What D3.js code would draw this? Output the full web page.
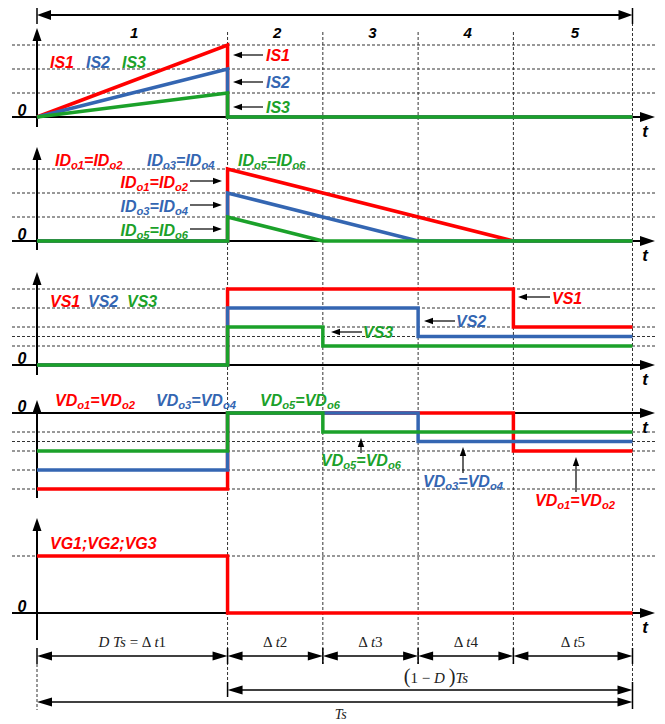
<!DOCTYPE html>
<html>
<head>
<meta charset="utf-8">
<script src="https://cdn.jsdelivr.net/npm/d3@7"></script>
<style>
  body { margin: 0; background: #fff; }
  svg { display: block; }
</style>
</head>
<body>
<svg id="chart" width="665" height="724"></svg>
<script>
// ---- switching interval boundaries (time units) ----
const boundaries = [0, 2, 3, 4, 5, 6.25];
const phaseLabels = ["1", "2", "3", "4", "5"];
const intervalLabels = ["D Ts = Δ t1", "Δ t2", "Δ t3", "Δ t4", "Δ t5"];
const offLabel = "(1 − D )Ts";
const periodLabel = "Ts";

// ---- switch currents IS1..IS3 ----
const is1 = [[0, 0], [2, 3], [2, 0], [6.25, 0]];
const is2 = [[0, 0], [2, 2], [2, 0], [6.25, 0]];
const is3 = [[0, 0], [2, 1], [2, 0], [6.25, 0]];
const isGrid = [1, 2, 3];

// ---- diode currents ----
const id12 = [[0, 0], [2, 0], [2, 3], [5, 0], [6.25, 0]];
const id34 = [[0, 0], [2, 0], [2, 2], [4, 0], [6.25, 0]];
const id56 = [[0, 0], [2, 0], [2, 1], [3, 0], [6.25, 0]];
const idGrid = [1, 2, 3];

// ---- switch voltages ----
const vs1 = [[0, 0], [2, 0], [2, 4], [5, 4], [5, 2], [6.25, 2]];
const vs2 = [[0, 0], [2, 0], [2, 3], [4, 3], [4, 1.5], [6.25, 1.5]];
const vs3 = [[0, 0], [2, 0], [2, 2], [3, 2], [3, 1], [6.25, 1]];
const vsGrid = [1, 1.5, 2, 3, 4];

// ---- diode voltages ----
const vd12 = [[0, -4], [2, -4], [2, 0], [5, 0], [5, -2], [6.25, -2]];
const vd34 = [[0, -3], [2, -3], [2, 0], [4, 0], [4, -1.5], [6.25, -1.5]];
const vd56 = [[0, -2], [2, -2], [2, 0], [3, 0], [3, -1], [6.25, -1]];
const vdGrid = [-1, -1.5, -2, -3, -4];

// ---- gate signals ----
const vg = [[0, 1], [2, 1], [2, 0], [6.25, 0]];
const vgGrid = [1];

// ---- styling ----
const COL = { red: "#ff0000", blue: "#3466b2", green: "#1ba12a" };
const SANS = "'Liberation Sans', Arial, sans-serif";
const SERIF = "'Liberation Serif', 'Times New Roman', serif";
const AX_L = 12, AX_R = 655;

const svg = d3.select("#chart");
const x = d3.scaleLinear().domain([0, 6.25]).range([37, 632.5]);
const X0 = x(0);

const panels = [
  { y: d3.scaleLinear().domain([0, 3]).range([117, 45]), grid: isGrid,
    series: [[is1, "red"], [is2, "blue"], [is3, "green"]], axTop: 28, axBottom: 127 },
  { y: d3.scaleLinear().domain([0, 3]).range([241, 169]), grid: idGrid,
    series: [[id12, "red"], [id34, "blue"], [id56, "green"]], axTop: 147, axBottom: 250 },
  { y: d3.scaleLinear().domain([0, 4]).range([365, 289]), grid: vsGrid,
    series: [[vs1, "red"], [vs2, "blue"], [vs3, "green"]], axTop: 272, axBottom: 375 },
  { y: d3.scaleLinear().domain([-4, 0]).range([489, 413]), grid: vdGrid,
    series: [[vd12, "red"], [vd34, "blue"], [vd56, "green"]], axTop: 400, axBottom: 498 },
  { y: d3.scaleLinear().domain([0, 1]).range([613, 556]), grid: vgGrid,
    series: [[vg, "red"]], axTop: 518, axBottom: 640 }
];

// filled triangular arrow head with its tip at (tx, ty)
function head(g, tx, ty, dir, len, hw) {
  let p;
  if (dir === "right") p = [[tx, ty], [tx - len, ty - hw], [tx - len, ty + hw]];
  else if (dir === "left") p = [[tx, ty], [tx + len, ty - hw], [tx + len, ty + hw]];
  else if (dir === "up") p = [[tx, ty], [tx - hw, ty + len], [tx + hw, ty + len]];
  else p = [[tx, ty], [tx - hw, ty - len], [tx + hw, ty - len]];
  g.append("path").attr("d", "M" + p.join("L") + "Z").attr("fill", "#000");
}

function seg(g, x1, y1, x2, y2, w, dash) {
  const l = g.append("line").attr("x1", x1).attr("y1", y1).attr("x2", x2).attr("y2", y2)
    .attr("stroke", dash ? "#333" : "#000").attr("stroke-width", w);
  if (dash) l.attr("stroke-dasharray", "3,2");
  return l;
}

// bold italic label; "oN" pieces are drawn as subscripts
function label(g, str, px, cy, color, anchor, fs) {
  fs = fs || 16;
  const t = g.append("text").attr("x", px).attr("y", cy + 0.36 * fs)
    .attr("fill", color).attr("font-family", SANS).attr("font-weight", "bold")
    .attr("font-style", "italic").attr("font-size", fs)
    .attr("text-anchor", anchor || "start");
  const parts = str.split(/(o\d)/).filter(s => s.length);
  let shifted = false;
  parts.forEach(s => {
    const sub = /^o\d$/.test(s);
    const ts = t.append("tspan").text(s);
    if (sub) { ts.attr("font-size", fs * 0.7).attr("dy", shifted ? 0 : 3); shifted = true; }
    else if (shifted) { ts.attr("dy", -3); shifted = false; }
  });
  return t;
}

// serif math label: latin letters italic
function mathLabel(g, str, cx, cy, fs) {
  const t = g.append("text").attr("x", cx).attr("y", cy + 0.33 * fs)
    .attr("font-family", SERIF).attr("font-size", fs).attr("fill", "#222")
    .attr("text-anchor", "middle").style("white-space", "pre");
  str.split(/([A-Za-z]+|[()])/).filter(s => s.length).forEach(s => {
    const ts = t.append("tspan").text(s);
    if (/^[A-Za-z]+$/.test(s)) ts.attr("font-style", "italic");
    if (/^[()]$/.test(s)) ts.attr("font-size", fs * 1.35);
  });
}

// ---- background grid ----
const gridG = svg.append("g");
panels.forEach(p => {
  p.grid.forEach(v => seg(gridG, AX_L, p.y(v), AX_R, p.y(v), 1, true));
});
seg(gridG, x(2), 32, x(2), 697, 1, true);
[3, 4, 5].forEach(t => seg(gridG, x(t), 32, x(t), 664, 1, true));
seg(gridG, x(6.25), 23, x(6.25), 709, 1, true);
seg(gridG, X0, 664, X0, 710, 1, true);

// ---- top period arrow and phase numbers ----
const headG = svg.append("g");
seg(headG, X0 + 10, 15, x(6.25) - 10, 15, 2);
head(headG, X0, 15, "left", 14, 5);
head(headG, x(6.25), 15, "right", 14, 5);
seg(headG, X0, 8, X0, 24, 1.5);
seg(headG, x(6.25), 8, x(6.25), 24, 1.5);
phaseLabels.forEach((s, i) => {
  const cx = (x(boundaries[i]) + x(boundaries[i + 1])) / 2 + 2;
  label(headG, s, cx, 33, "#000", "middle", 15);
});

// ---- axes ----
const axesG = svg.append("g");
panels.forEach(p => {
  const y0 = p.y(0);
  seg(axesG, AX_L, y0, AX_R - 12, y0, 2);
  head(axesG, AX_R, y0, "right", 15, 5);
  seg(axesG, X0, p.axTop + 10, X0, p.axBottom, 2);
  head(axesG, X0, p.axTop, "up", 13, 4.5);
  label(axesG, "0", 22, y0 - 7, "#000", "middle", 16);
  label(axesG, "t", 645, y0 + 14, "#000", "middle", 17);
});

// ---- waveforms ----
const waveG = svg.append("g");
panels.forEach(p => {
  const gen = d3.line().x(d => x(d[0])).y(d => p.y(d[1]));
  p.series.forEach(([data, c]) => {
    waveG.append("path").attr("d", gen(data)).attr("fill", "none")
      .attr("stroke", COL[c]).attr("stroke-width", 3.5)
      .attr("stroke-linejoin", "miter").attr("stroke-linecap", "butt");
  });
});

// ---- annotations ----
const annG = svg.append("g");
function pointer(x1, y1, x2, y2, dir) {
  seg(annG, x1, y1, (dir === "left" ? x2 + 6 : dir === "right" ? x2 - 6 : x2),
    (dir === "up" ? y2 + 6 : y2), 1.2);
  head(annG, x2, y2, dir, 9, 3.2);
}

// switch currents
label(annG, "IS1", 50, 62, COL.red);
label(annG, "IS2", 86, 62, COL.blue);
label(annG, "IS3", 122, 62, COL.green);
[["IS1", 55, COL.red], ["IS2", 82, COL.blue], ["IS3", 107, COL.green]].forEach(([s, yy, c]) => {
  pointer(263, yy, 233, yy, "left");
  label(annG, s, 266, yy + 0.5, c);
});

// diode currents
label(annG, "IDo1=IDo2", 55, 160, COL.red);
label(annG, "IDo3=IDo4", 147, 160, COL.blue);
label(annG, "IDo5=IDo6", 238, 160, COL.green);
[["IDo1=IDo2", 181, COL.red], ["IDo3=IDo4", 205, COL.blue], ["IDo5=IDo6", 229, COL.green]].forEach(([s, yy, c]) => {
  pointer(190, yy, 222, yy, "right");
  label(annG, s, 188, yy + 1.5, c, "end");
});

// switch voltages
label(annG, "VS1", 50, 301, COL.red);
label(annG, "VS2", 88, 301, COL.blue);
label(annG, "VS3", 127, 301, COL.green);
pointer(550, 297, 518, 297, "left"); label(annG, "VS1", 552, 298, COL.red);
pointer(455, 321, 424, 321, "left"); label(annG, "VS2", 456, 321, COL.blue);
pointer(362, 332, 331, 332, "left"); label(annG, "VS3", 363, 332, COL.green);

// diode voltages
label(annG, "VDo1=VDo2", 55, 400, COL.red);
label(annG, "VDo3=VDo4", 156, 400, COL.blue);
label(annG, "VDo5=VDo6", 260, 400, COL.green);
pointer(361, 453, 361, 438, "up"); label(annG, "VDo5=VDo6", 361, 460, COL.green, "middle");
pointer(463, 473, 463, 447, "up"); label(annG, "VDo3=VDo4", 463, 481, COL.blue, "middle");
pointer(576, 492, 576, 457, "up"); label(annG, "VDo1=VDo2", 575, 500, COL.red, "middle");

// gate signals
label(annG, "VG1;VG2;VG3", 50, 543, COL.red);

// ---- interval dimension arrows ----
const dimG = svg.append("g");
function dimArrow(xa, xb, yy) {
  seg(dimG, xa + 10, yy, xb - 10, yy, 1.5);
  head(dimG, xa, yy, "left", 15, 4.5);
  head(dimG, xb, yy, "right", 15, 4.5);
}
boundaries.forEach(t => seg(dimG, x(t), 648, x(t), 664, 1.5));
intervalLabels.forEach((s, i) => {
  const xa = x(boundaries[i]), xb = x(boundaries[i + 1]);
  dimArrow(xa, xb, 656);
  mathLabel(dimG, s, (xa + xb) / 2, 642, 15);
});
seg(dimG, x(2), 682, x(2), 697, 1.5);
seg(dimG, x(6.25), 682, x(6.25), 709, 1.5);
dimArrow(x(2), x(6.25), 690);
mathLabel(dimG, offLabel, (x(2) + x(6.25)) / 2 + 6, 678, 15);
dimArrow(X0, x(6.25), 702);
mathLabel(dimG, periodLabel, (X0 + x(6.25)) / 2 + 6, 714, 14);
</script>
</body>
</html>
